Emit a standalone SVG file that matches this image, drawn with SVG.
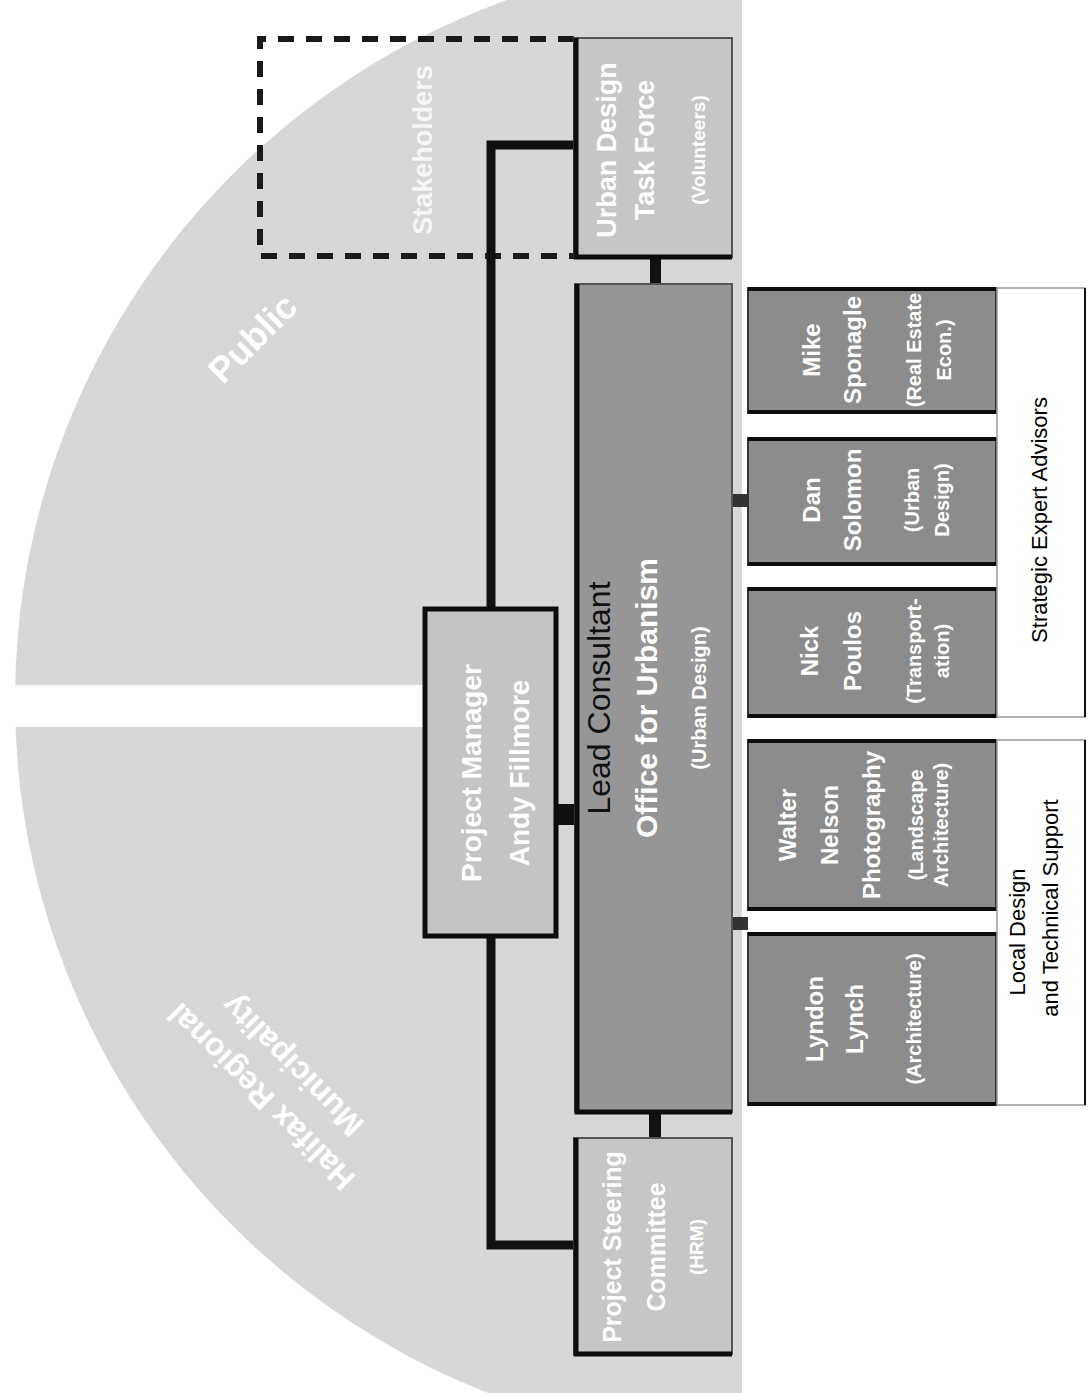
<svg xmlns="http://www.w3.org/2000/svg" width="1088" height="1393" viewBox="0 0 1088 1393">
<style>
text{font-family:"Liberation Sans",Arial,sans-serif;text-anchor:middle}
.w{fill:#fff;font-weight:bold}
.n{font-size:24px}
.r{font-size:20px}
.dk{fill:#111}
.lbl{fill:#000;font-size:22px}
.big{fill:#fff;font-weight:bold}
.light{fill:#c6c6c6;stroke:#555;stroke-width:2}
.mid{fill:#969696;stroke:#555;stroke-width:2}
.exp{fill:#8c8c8c;stroke:#333;stroke-width:2}
.note{fill:#fff;stroke:#999;stroke-width:1.5}
.edge{stroke:#0d0d0d;stroke-width:5;fill:none}
.conn{stroke:#111;stroke-width:9;fill:none}
</style>
<defs>
<clipPath id="half"><rect x="0" y="0" width="742" height="1393"/></clipPath>
</defs>
<rect width="1088" height="1393" fill="#fff"/>
<g id="background">
<circle cx="759" cy="700" r="744" fill="#d7d7d7" clip-path="url(#half)"/>
<rect x="0" y="685" width="424" height="42" fill="#fff"/>
<text class="big" font-size="36" transform="translate(252 338) rotate(-45)" y="13">Public</text>
<text class="big" font-size="32" transform="translate(276 1082) rotate(-135)" y="-10">Halifax Regional</text>
<text class="big" font-size="32" transform="translate(276 1082) rotate(-135)" y="34">Municipality</text>
</g>
<g id="stakeholders">
<path d="M574 39 H260 V256 H574" fill="none" stroke="#1a1a1a" stroke-width="6" stroke-dasharray="16 12"/>
<text fill="#f6f6f6" font-weight="bold" font-size="27" transform="translate(432 150) rotate(-90)">Stakeholders</text>
</g>
<g id="connectors">
<path class="conn" d="M491 609 V145 H574"/>
<path class="conn" d="M491 936 V1245 H574"/>
<rect x="556" y="804" width="19" height="21" fill="#111"/>
<rect x="650" y="257" width="11" height="27" fill="#111"/>
<rect x="649" y="1112" width="12" height="26" fill="#111"/>
<rect x="733" y="494" width="15" height="13" fill="#333"/>
<rect x="733" y="917" width="15" height="13" fill="#333"/>
</g>
<g id="urban-design-task-force">
<rect class="light" x="574" y="38" width="158" height="219"/>
<path class="edge" d="M576 38 V257 H732"/>
<text class="w" font-size="27" transform="translate(616 150) rotate(-90)">Urban Design</text>
<text class="w" font-size="27" transform="translate(654 150) rotate(-90)">Task Force</text>
<text class="w" font-size="19" transform="translate(705 150) rotate(-90)">(Volunteers)</text>
</g>
<g id="project-manager">
<rect x="425" y="609" width="131" height="327" fill="#c4c4c4" stroke="#0d0d0d" stroke-width="5"/>
<text class="w" font-size="28" transform="translate(481 773) rotate(-90)">Project Manager</text>
<text class="w" font-size="28" transform="translate(529 773) rotate(-90)">Andy Fillmore</text>
</g>
<g id="lead-consultant">
<rect class="mid" x="575" y="284" width="157" height="828"/>
<path class="edge" d="M577 284 V1112 H732"/>
<text class="dk" font-size="32" transform="translate(610 698) rotate(-90)">Lead Consultant</text>
<text class="w" font-size="30" transform="translate(657 698) rotate(-90)">Office for Urbanism</text>
<text class="w" font-size="20" transform="translate(706 698) rotate(-90)">(Urban Design)</text>
</g>
<g id="project-steering-committee">
<rect class="light" x="574" y="1138" width="158" height="216"/>
<path class="edge" d="M576 1138 V1354 H732"/>
<text class="w" font-size="25" transform="translate(621 1247) rotate(-90)">Project Steering</text>
<text class="w" font-size="25" transform="translate(665 1247) rotate(-90)">Committee</text>
<text class="w" font-size="19" transform="translate(703 1247) rotate(-90)">(HRM)</text>
</g>
<g id="expert-1">
<rect class="exp" x="748" y="288" width="248" height="125"/>
<path d="M748 289 H996 M748 412 H996" stroke="#0d0d0d" stroke-width="4"/>
<text class="w n" transform="translate(820 350) rotate(-90)">Mike</text>
<text class="w n" transform="translate(861 350) rotate(-90)">Sponagle</text>
<text class="w r" transform="translate(921 350) rotate(-90)">(Real Estate</text>
<text class="w r" transform="translate(951 350) rotate(-90)">Econ.)</text>
</g>
<g id="expert-2">
<rect class="exp" x="748" y="438" width="248" height="127"/>
<path d="M748 439 H996 M748 564 H996" stroke="#0d0d0d" stroke-width="4"/>
<text class="w n" transform="translate(820 500) rotate(-90)">Dan</text>
<text class="w n" transform="translate(861 500) rotate(-90)">Solomon</text>
<text class="w r" transform="translate(919 500) rotate(-90)">(Urban</text>
<text class="w r" transform="translate(949 500) rotate(-90)">Design)</text>
</g>
<g id="expert-3">
<rect class="exp" x="748" y="588" width="248" height="129"/>
<path d="M748 589 H996 M748 716 H996" stroke="#0d0d0d" stroke-width="4"/>
<text class="w n" transform="translate(818 651) rotate(-90)">Nick</text>
<text class="w n" transform="translate(861 651) rotate(-90)">Poulos</text>
<text class="w r" transform="translate(921 651) rotate(-90)">(Transport-</text>
<text class="w r" transform="translate(949 651) rotate(-90)">ation)</text>
</g>
<g id="local-1">
<rect class="exp" x="748" y="740" width="248" height="170"/>
<path d="M748 741 H996 M748 909 H996" stroke="#0d0d0d" stroke-width="4"/>
<text class="w n" transform="translate(796 825) rotate(-90)">Walter</text>
<text class="w n" transform="translate(838 825) rotate(-90)">Nelson</text>
<text class="w n" transform="translate(880 825) rotate(-90)">Photography</text>
<text class="w r" transform="translate(923 825) rotate(-90)">(Landscape</text>
<text class="w r" transform="translate(948 825) rotate(-90)">Architecture)</text>
</g>
<g id="local-2">
<rect class="exp" x="748" y="933" width="248" height="172"/>
<path d="M748 934 H996 M748 1104 H996" stroke="#0d0d0d" stroke-width="4"/>
<text class="w n" transform="translate(823 1019) rotate(-90)">Lyndon</text>
<text class="w n" transform="translate(863 1019) rotate(-90)">Lynch</text>
<text class="w r" transform="translate(921 1019) rotate(-90)">(Architecture)</text>
</g>
<g id="strategic-expert-advisors">
<rect class="note" x="997" y="288" width="88" height="429"/>
<path d="M1085 288 V717" stroke="#111" stroke-width="2"/>
<text class="lbl" transform="translate(1047 520) rotate(-90)">Strategic Expert Advisors</text>
</g>
<g id="local-design-support">
<rect class="note" x="997" y="740" width="88" height="365"/>
<path d="M1085 740 V1105" stroke="#111" stroke-width="2"/>
<text class="lbl" transform="translate(1025 932) rotate(-90)">Local Design</text>
<text class="lbl" transform="translate(1058 908) rotate(-90)">and Technical Support</text>
</g>
</svg>
